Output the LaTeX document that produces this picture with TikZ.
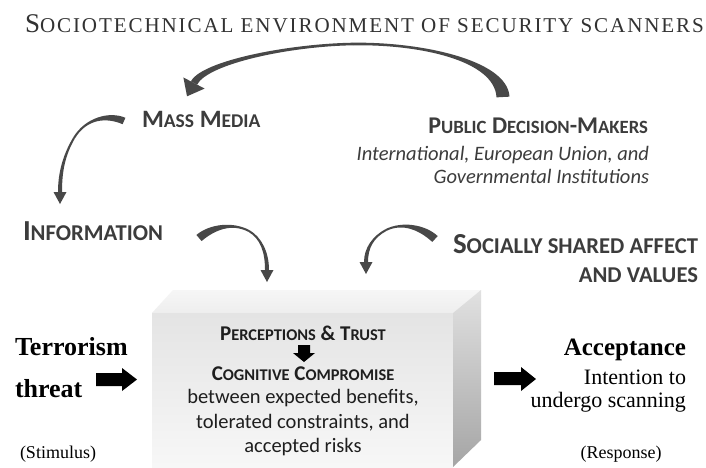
\documentclass[tikz,border=0pt]{standalone}
\usepackage{fontspec}
\setmainfont{Liberation Serif}
\newfontfamily\carl{Carlito}
\newfontfamily\titlef[LetterSpace=9]{Liberation Serif}
\usetikzlibrary{calc}
\makeatletter
\newcommand\smc[1]{{\fontsize{\strip@pt\dimexpr0.78\dimexpr\f@size pt\relax\relax}{\f@baselineskip}\selectfont #1}}
\makeatother
\definecolor{arrcol}{RGB}{72,72,72}
\definecolor{labcol}{RGB}{60,60,60}
\definecolor{titcol}{RGB}{50,50,50}
\definecolor{txtcol}{RGB}{30,30,30}
\newcommand\taperseg[6]{%
  \fill[arrcol] ($(#1)!#5!90:(#2)$) .. controls ($(#2)!#5!-90:(#1)$) and ($(#3)!#6!90:(#4)$) .. ($(#4)!#6!-90:(#3)$)
    -- ($(#4)!#6!90:(#3)$) .. controls ($(#3)!#6!-90:(#4)$) and ($(#2)!#5!90:(#1)$) .. ($(#1)!#5!-90:(#2)$) -- cycle;}
\newcommand\taperhead[4]{%
  \fill[arrcol] ($(#2)!#3!90:(#1)$) -- ($(#2)!#4!180:(#1)$) -- ($(#2)!#3!-90:(#1)$) -- cycle;}
\tikzset{
  txt/.style={inner sep=0pt, outer sep=0pt},
  lab/.style={txt, text=labcol, font=\carl\bfseries},
  boxtxt/.style={txt, text=txtcol, font=\carl\fontsize{20.5}{24}\selectfont, anchor=base},
  boxcap/.style={txt, text=txtcol, font=\carl\bfseries\fontsize{21}{24}\selectfont, anchor=base},
  hand/.style={txt, text=black},
  blockarr/.style={fill=black, draw=none}
}
\begin{document}
\begin{tikzpicture}[x=1pt,y=-1pt]
\fill[white] (0,0) rectangle (706,467);
\useasboundingbox (0,0) rectangle (706,467);

% title
\node[txt, anchor=base west, text=titcol, font=\titlef\fontsize{27}{30}\selectfont] (title) at (25,32)
  {S\smc{OCIOTECHNICAL ENVIRONMENT OF SECURITY SCANNERS}};

% 3D box
\shade[top color={rgb,255:red,246;green,246;blue,246}, bottom color={rgb,255:red,238;green,238;blue,238}]
  (152,313) -- (173,290) -- (481,290) -- (453,313) -- cycle;
\shade[top color={rgb,255:red,228;green,228;blue,228}, bottom color={rgb,255:red,247;green,247;blue,247}]
  (152,313) rectangle (453,467);
\shade[top color={rgb,255:red,225;green,225;blue,225}, bottom color={rgb,255:red,165;green,165;blue,165}]
  (453,313) -- (481,290) -- (481,440) -- (453,467) -- cycle;

% labels
\node[lab, anchor=base west, font=\carl\bfseries\fontsize{25}{28}\selectfont] (media) at (142,127)
  {M\smc{ASS} M\smc{EDIA}};
\node[lab, anchor=base east, font=\carl\bfseries\fontsize{24}{28}\selectfont] (public) at (648,133)
  {P\smc{UBLIC} D\smc{ECISION}-M\smc{AKERS}};
\node[txt, anchor=base east, text=labcol, font=\carl\itshape\fontsize{20.5}{24}\selectfont] (inst1) at (649,160)
  {International, European Union, and};
\node[txt, anchor=base east, text=labcol, font=\carl\itshape\fontsize{20.5}{24}\selectfont] (inst2) at (649,183)
  {Governmental Institutions};
\node[lab, anchor=base west, font=\carl\bfseries\fontsize{29}{32}\selectfont] (info) at (23,240)
  {I\smc{NFORMATION}};
\node[lab, anchor=base east, font=\carl\bfseries\fontsize{29}{32}\selectfont] (social) at (698,253)
  {S\smc{OCIALLY SHARED AFFECT}};
\node[lab, anchor=base east, font=\carl\bfseries\fontsize{29}{32}\selectfont] (values) at (698,282)
  {\smc{AND VALUES}};

% box text
\node[boxcap] (perc) at (303,340) {P\smc{ERCEPTIONS} \& T\smc{RUST}};
\node[boxcap] (cogn) at (303,380) {C\smc{OGNITIVE} C\smc{OMPROMISE}};
\node[boxtxt] (l1) at (303,403) {between expected benefits,};
\node[boxtxt] (l2) at (303,428) {tolerated constraints, and};
\node[boxtxt] (l3) at (303,452) {accepted risks};
\fill[blockarr] (298,345) -- (310,345) -- (310,353) -- (315,353) -- (304,362) -- (293,353) -- (298,353) -- cycle;

% stimulus / response
\node[hand, anchor=base west, font=\bfseries\fontsize{26}{30}\selectfont] (terror) at (15,355) {Terrorism};
\node[hand, anchor=base west, font=\bfseries\fontsize{26}{30}\selectfont] (threat) at (15,397) {threat};
\node[hand, anchor=base west, font=\fontsize{18}{22}\selectfont] (stim) at (20,458) {(Stimulus)};
\node[hand, anchor=base east, font=\bfseries\fontsize{25}{30}\selectfont] (accept) at (686,355) {Acceptance};
\node[hand, anchor=base east, font=\fontsize{22}{26}\selectfont] (intent) at (686,384) {Intention to};
\node[hand, anchor=base east, font=\fontsize{22}{26}\selectfont] (undergo) at (686,407) {undergo scanning};
\node[hand, anchor=base, font=\fontsize{18}{22}\selectfont] (resp) at (621,458) {(Response)};

\fill[blockarr] (96,373) -- (122,373) -- (122,368) -- (137,379.5) -- (122,391) -- (122,386) -- (96,386) -- cycle;
\fill[blockarr] (494,372) -- (521,372) -- (521,367) -- (536,379) -- (521,391) -- (521,385) -- (494,385) -- cycle;

% curved arrows
\taperseg{503,97}{501,60}{420,43}{353,44}{6.5pt}{1.3pt}
\taperseg{353,44}{290,45}{205,62}{194,83}{1.3pt}{3.5pt}
\taperhead{205,62}{194,83}{12pt}{15pt}

\taperseg{124,121}{108,114}{86,118}{74,138}{3.5pt}{1pt}
\taperseg{74,138}{64,155}{60,172}{60,192}{1pt}{2pt}
\taperhead{60,172}{60,192}{6.5pt}{12pt}

\taperseg{199,238}{212,227}{232,222}{249,231}{4pt}{1pt}
\taperseg{249,231}{261,238}{267,252}{267,270}{1pt}{2pt}
\taperhead{267,252}{267,270}{6.5pt}{12pt}

\taperseg{435,239}{422,227}{402,222}{386,230}{4pt}{1pt}
\taperseg{386,230}{373,237}{366,248}{366,262}{1pt}{2pt}
\taperhead{366,248}{366,262}{6.5pt}{12pt}
\end{tikzpicture}
\end{document}
